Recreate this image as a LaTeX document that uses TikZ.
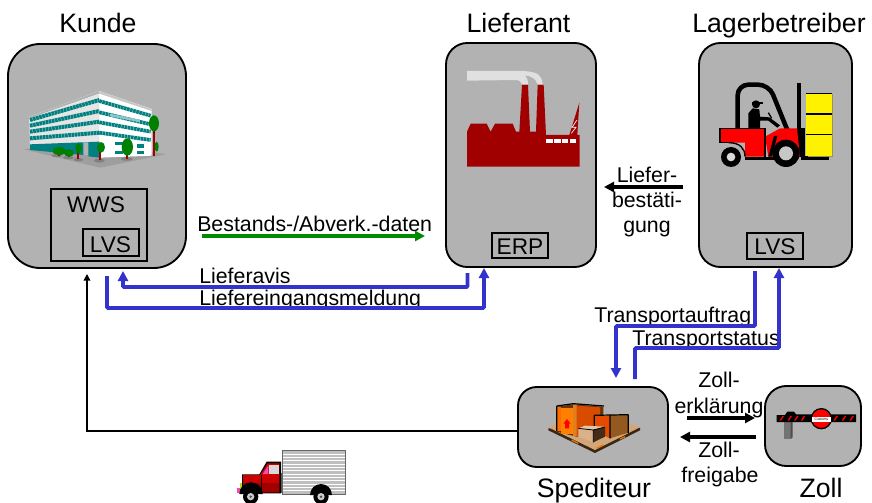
\documentclass[tikz,border=0pt]{standalone}
\usepackage{fontspec}
\setmainfont{Liberation Sans}
\usetikzlibrary{arrows.meta}
\definecolor{boxgray}{HTML}{B2B2B2}
\definecolor{flowblue}{HTML}{3333CC}
\definecolor{flowgreen}{HTML}{008A00}
\definecolor{brick}{HTML}{A00000}
\definecolor{teal2}{HTML}{008080}
\tikzset{
  sized/.style 2 args={minimum width=#1*0.75pt,minimum height=#2*0.75pt,inner sep=0pt,outer sep=0pt},
  partybox/.style={draw=black,fill=boxgray,line width=1.4pt},
  sysbox/.style={draw=black,line width=1.1pt,fill=none},
  title/.style={font=\fontsize{20}{22}\selectfont,anchor=base,inner sep=0pt},
  lab/.style={font=\fontsize{16}{18}\selectfont,anchor=base,inner sep=0pt},
  syslab/.style={font=\fontsize{17}{19}\selectfont,anchor=base,inner sep=0pt},
  labl/.style={font=\fontsize{16}{18}\selectfont,anchor=base west,inner sep=0pt},
  blueflow/.style={draw=flowblue,line width=2.8pt,-{Triangle[length=7.5pt,width=7.5pt]}},
  blackflow/.style={draw=black,line width=2.6pt,-{Triangle[length=7.5pt,width=7.5pt]}},
  greenflow/.style={draw=flowgreen,line width=2.6pt,-{Triangle[length=7.5pt,width=7.5pt]}},
  thinflow/.style={draw=black,line width=1.1pt,-{Triangle[length=5pt,width=5pt]}},
}
\begin{document}
\begin{tikzpicture}[x=0.75pt,y=-0.75pt]
\useasboundingbox (0,0) rectangle (872,503);
\clip (0,0) rectangle (872,503);
% party boxes
\node[partybox,sized={178}{224},rounded corners=24pt] (kunde) at (97,156) {};
\node[partybox,sized={150}{224},rounded corners=16pt] (lief) at (521,155) {};
\node[partybox,sized={153}{224},rounded corners=16pt] (lager) at (775.5,155) {};
\node[partybox,sized={150}{80},rounded corners=14pt] (sped) at (593,427) {};
\node[partybox,sized={96}{80},rounded corners=16pt] (zoll) at (813,426) {};
% system boxes
\node[sysbox,sized={96}{72}] (wws) at (99,225) {};
\node[sysbox,sized={56}{27}] (lvsk) at (111,242.5) {};
\node[sysbox,sized={56}{25}] (erp) at (520,245.5) {};
\node[sysbox,sized={56}{26}] (lvsl) at (775,246) {};
% titles and labels
\node[title] (tk) at (98,33) {Kunde};
\node[title] (tl) at (518.5,33) {Lieferant};
\node[title] (tb) at (779,33) {Lagerbetreiber};
\node[title] (ts) at (594,497) {Spediteur};
\node[title] (tz) at (821,497) {Zoll};
\node[syslab] (w1) at (96,212) {WWS};
\node[syslab] (l1) at (110.5,252) {LVS};
\node[syslab] (e1) at (520,254) {ERP};
\node[syslab] (l2) at (775,254) {LVS};
\node[labl] (t1) at (197,231) {Bestands-/Abverk.-daten};
\node[labl] (t2) at (199,283) {Lieferavis};
\node[labl] (t3) at (199,305) {Liefereingangsmeldung};
\node[labl] (t4) at (594,322) {Transportauftrag};
\node[labl] (t5) at (632,345) {Transportstatus};
\node[lab] (b1) at (647,182) {Liefer-};
\node[lab] (b2) at (647,207) {bestäti-};
\node[lab] (b3) at (647,232) {gung};
\node[lab] (z1) at (719,387) {Zoll-};
\node[lab] (z2) at (719,413) {erklärung};
\node[lab] (z3) at (719,457) {Zoll-};
\node[lab] (z4) at (720,482) {freigabe};
% free ends
\coordinate (aS) at (467.5,273);  \coordinate (aT) at (123,271);
\coordinate (eS) at (107,276);    \coordinate (eT) at (484,268);
\coordinate (gS) at (202,236);    \coordinate (gT) at (425,236);
\coordinate (bS) at (683,187);    \coordinate (bT) at (604,187);
\coordinate (oS) at (755,271);    \coordinate (oT) at (616,378);
\coordinate (sS) at (635,379);    \coordinate (sT) at (779,268);
\coordinate (zS) at (687,418);    \coordinate (zT) at (755,418);
\coordinate (fS) at (756,437);    \coordinate (fT) at (680,437);
\coordinate (kT) at (87,274);
% connectors
\draw[greenflow] (gS) -- (gT);
\draw[blueflow,rounded corners=0.8pt] (aS) -- (aS |- 0,287) -- (aT |- 0,287) -- (aT);
\draw[blueflow,rounded corners=0.8pt] (eS) -- (eS |- 0,308) -- (eT |- 0,308) -- (eT);
\draw[blackflow] (bS) -- (bT);
\draw[blueflow,rounded corners=0.8pt] (oS) -- (oS |- 0,326) -- (oT |- 0,326) -- (oT);
\draw[blueflow,rounded corners=0.8pt] (sS) -- (sS |- 0,348) -- (sT |- 0,348) -- (sT);
\draw[blackflow] (zS) -- (zT);
\draw[blackflow] (fS) -- (fT);
\draw[thinflow] (sped.west |- 0,431) -| (kT);

% ---- building
\begin{scope}[shift={(20,85)},scale=1/3]
\fill[black!38] (12,193) -- (240,248) -- (438,208) -- (395,200) -- (238,215) -- (30,190) -- cycle;
\fill[white] (28,95) -- (238,18) -- (395,72) -- (395,212) -- (238,218) -- (238,170) -- (30,178) -- cycle;
\fill[black!30] (28,95) -- (238,18) -- (238,26) -- (28,100) -- cycle;
\fill[black!22] (238,18) -- (395,72) -- (395,78) -- (238,26) -- cycle;
\fill[black!10] (30,100) -- (238,26) -- (238,170) -- (30,178) -- cycle;
\fill[teal2] (30,178) -- (238,170) -- (238,218) -- (205,214) -- (205,172) -- (190,172) -- (190,210) -- (30,195) -- cycle;
\foreach \a/\b in {105/45,122/78,140/110,160/143}
  \draw[teal2,line width=3pt,dash pattern=on 2pt off 0.4pt] (30,\a) -- (238,\b);
\foreach \a/\b in {48/92,82/118,112/140,143/165}
  \draw[teal2,line width=2.8pt,dash pattern=on 2pt off 0.4pt] (238,\a) -- (392,\b);
\fill[teal2!45] (270,86) -- (360,104) -- (360,112) -- (270,94) -- cycle;
\fill[teal2] (285,172) rectangle (310,180);
\fill[teal2] (285,198) rectangle (310,208);
\fill[teal2] (350,178) rectangle (372,188);
\fill[teal2] (350,198) rectangle (372,208);
\fill[black!50] (110,212) ellipse (16 and 5) (145,218) ellipse (16 and 5) (175,224) ellipse (14 and 5) (238,227) ellipse (16 and 6) (320,222) ellipse (18 and 5);
\foreach \x/\y/\h in {118/212/10,147/217/10,175/221/28,241/226/35,322/222/22,403/212/75}
  \draw[brick,line width=1.3pt] (\x,\y) -- (\x,\y-\h);
\fill[green!50!black] (118,198) ellipse (20 and 12) (147,204) ellipse (15 and 11) (176,190) ellipse (10 and 15) (243,187) ellipse (12 and 16) (322,186) ellipse (17 and 26) (402,115) ellipse (15 and 24) (410,185) ellipse (6 and 15);
\fill[black] (403,143) circle (2);
\end{scope}

% ---- factory
\begin{scope}[shift={(440,40)},scale=1/3]
\fill[black!12] (81,93) -- (250,93) .. controls (295,96) and (305,105) .. (308,133) -- (293,133) .. controls (288,118) and (275,108) .. (255,106) .. controls (262,112) and (264,122) .. (264,133) -- (246,133) .. controls (244,125) and (238,120) .. (225,120) -- (81,122) -- cycle;
\fill[brick] (81,380) -- (81,275) -- (92,251) -- (140,251) -- (152,275) -- (165,251) -- (218,251) -- (228,275) -- (238,275) -- (246,135) -- (264,135) -- (270,275) -- (288,275) -- (293,135) -- (311,135) -- (318,285) -- (419,285) -- (419,380) -- cycle;
\fill[brick] (388,285) -- (418,188) -- (412,285) -- cycle;
\draw[white,line width=0.5pt] (394,280) -- (408,262) -- (396,262) -- (411,240);
\draw[white,line width=3pt,dash pattern=on 5pt off 0.9pt] (318,303) -- (412,303);
\end{scope}

% ---- forklift
\begin{scope}[shift={(700,60)},scale=1/3]
\draw[black,line width=3.4pt,rounded corners=8pt] (113,205) -- (113,74) -- (207,74) -- (268,225);
\fill[black] (291,70) rectangle (304,290);
\fill[black] (304,203) rectangle (315,290);
\fill[black] (304,289) rectangle (388,301);
\fill[black] (135,290) rectangle (225,301);
\fill[black!45!yellow] (323,103) rectangle (400,292);
\fill[yellow] (319,100) rectangle (397,288);
\draw[black,line width=1pt] (319,100) -- (397,100) (319,162) -- (397,162) (319,224) -- (397,224);
% driver
\fill[black] (168,133) circle (12);
\fill[black] (155,126) rectangle (188,131);
\fill[black] (145,160) -- (158,145) -- (178,148) -- (180,170) -- (208,172) -- (240,196) -- (232,203) -- (205,182) -- (180,182) -- (180,205) -- (145,205) -- cycle;
\draw[black,line width=1pt] (205,158) -- (215,175);
% body
\fill[red] (60,205) -- (195,205) -- (195,290) -- (135,290) -- (135,248) -- (60,248) -- cycle;
\fill[red] (195,230) -- (240,205) -- (291,205) -- (300,290) -- (205,290) -- cycle;
\fill[boxgray] (197,203) -- (218,203) -- (197,225) -- cycle;
\draw[black,line width=1pt] (195,205) -- (195,290) (60,205) -- (195,205) (60,205) -- (60,248) -- (85,248);
\draw[black,line width=1pt] (85,248) .. controls (120,248) and (135,265) .. (135,290);
\fill[black] (205,290) -- (222,228) -- (232,228) -- (215,290) -- cycle;
\fill[black] (93,291) circle (30);
\fill[white!85!black] (93,291) circle (13);
\fill[black] (258,280) circle (41);
\fill[black!22] (258,280) circle (21);
\end{scope}

% ---- pallet and boxes
\begin{scope}[shift={(540,395)},scale=1/3]
\fill[black!70!brown] (25,100) -- (25,106) -- (165,174) -- (300,106) -- (300,98) -- cycle;
\fill[brown!70!white] (25,97) -- (165,165) -- (300,97) -- (265,85) -- (60,85) -- cycle;
\draw[orange!90!black,line width=1pt] (95,135) -- (115,145) (170,160) -- (190,150) (240,132) -- (255,125);
\fill[black!60!orange] (50,35) -- (100,28) -- (190,35) -- (190,110) -- (110,125) -- (50,110) -- cycle;
\fill[orange!85!red] (50,35) rectangle (62,108);
\fill[orange] (62,38) rectangle (100,118);
\fill[orange!50!brown] (100,30) rectangle (110,122);
\fill[orange!70!red!85!black] (110,32) -- (180,37) -- (180,110) -- (110,125) -- cycle;
\draw[black,line width=0.9pt] (50,33) -- (100,26) -- (192,33) (50,33) -- (50,108);
\fill[orange!65!red!90!black] (163,62) -- (210,62) -- (210,130) -- (163,108) -- cycle;
\fill[brown!70!orange!70!black] (210,60) -- (265,60) -- (265,113) -- (210,130) -- cycle;
\draw[black,line width=0.9pt] (163,61) -- (265,59) (163,61) -- (163,105) (210,60) -- (210,130) (265,59) -- (265,115);
\fill[red] (75,100) rectangle (87,85) (70,86) -- (81,72) -- (92,86) -- cycle;
\fill[brown!45!white] (115,100) -- (135,92) -- (195,95) -- (160,105) -- cycle;
\fill[brown!60!white] (115,100) -- (160,105) -- (160,142) -- (115,125) -- cycle;
\fill[black!65!brown] (160,105) -- (195,97) -- (195,125) -- (160,142) -- cycle;
\draw[black,line width=0.6pt] (115,100) -- (160,105) -- (195,96) (160,105) -- (160,142);
\end{scope}

% ---- barrier
\begin{scope}[shift={(770,400)},scale=1/3]
\fill[black!55] (41,65) rectangle (62,117);
\fill[black!70] (62,65) -- (68,65) -- (68,112) -- (62,117) -- cycle;
\fill[black] (20,45) -- (45,45) -- (52,35) -- (72,35) -- (78,43) -- (258,43) -- (258,66) -- (20,66) -- cycle;
\foreach \x in {28,52,72,92,190,215,238}
  \fill[red] (\x,62) -- (\x+5,62) -- (\x+14,48) -- (\x+9,48) -- cycle;
\fill[red,draw=black,line width=1pt] (154,56) circle (30);
\fill[white] (126,50) rectangle (182,66);
\node[inner sep=0pt,font=\fontsize{2.6}{3}\selectfont] (cust) at (154,58) {Customs};
\end{scope}

% ---- truck
\begin{scope}[shift={(220,440)},scale=1/3]
\fill[black!60] (187,31) rectangle (377,164);
\fill[black!25] (190,34) rectangle (374,161);
\foreach \y in {42,52,...,155}
  \draw[white,line width=0.7pt] (190,\y) -- (374,\y);
\fill[black!60] (180,100) rectangle (189,160);
\fill[black] (118,103) -- (140,65) -- (183,65) -- (183,160) -- (66,160) -- (66,103) -- cycle;
\fill[red!80!black] (69,105) -- (120,105) -- (143,70) -- (178,70) -- (178,157) -- (69,157) -- cycle;
\fill[brick] (69,130) rectangle (178,157);
\fill[white!85!black] (148,76) rectangle (177,102);
\fill[magenta!70!white] (128,102) -- (145,76) -- (145,102) -- cycle;
\draw[black,line width=0.5pt] (124,105) -- (124,158);
\fill[magenta!70!white] (50,145) rectangle (70,160);
\fill[yellow!70!green] (61,130) rectangle (67,146);
\fill[black] (58,162) arc[start angle=180,end angle=360,radius=35] -- cycle;
\fill[black] (270,165) arc[start angle=180,end angle=360,radius=33] -- cycle;
\foreach \x in {92,303}{
  \fill[black] (\x,170) circle (23);
  \fill[white!80!black] (\x,170) circle (11);
  \fill[black!70] (\x,170) circle (4);
}
\end{scope}
\end{tikzpicture}
\end{document}
